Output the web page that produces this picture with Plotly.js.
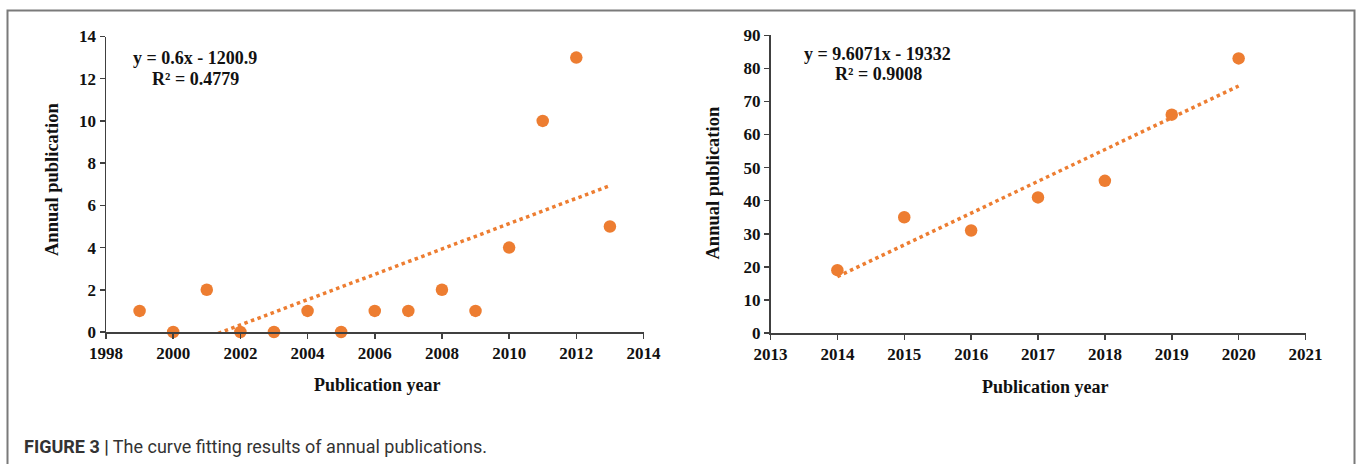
<!DOCTYPE html>
<html>
<head>
<meta charset="utf-8">
<script src="https://cdn.plot.ly/plotly-3.0.1.min.js"></script>
<style>
  html, body { margin: 0; padding: 0; background: #fff; }
  #chart { width: 1358px; height: 464px; }
</style>
</head>
<body>
<div id="chart"></div>
<script>
// ---- Data ----
const yearsA = [1999, 2000, 2001, 2002, 2003, 2004, 2005, 2006, 2007, 2008, 2009, 2010, 2011, 2012, 2013];
const pubsA  = [1, 0, 2, 0, 0, 1, 0, 1, 1, 2, 1, 4, 10, 13, 5];
const yearsB = [2014, 2015, 2016, 2017, 2018, 2019, 2020];
const pubsB  = [19, 35, 31, 41, 46, 66, 83];
const eqA = ["y = 0.6x - 1200.9", "R² = 0.4779"];
const eqB = ["y = 9.6071x - 19332", "R² = 0.9008"];
const xTitle = "Publication year";
const yTitle = "Annual publication";
const caption = ["FIGURE 3 |", "The curve fitting results of annual publications."];

// least-squares linear fit of the data (the trendline)
function linfit(xs, ys) {
  const n = xs.length;
  const mx = xs.reduce((a, b) => a + b, 0) / n;
  const my = ys.reduce((a, b) => a + b, 0) / n;
  let sxy = 0, sxx = 0;
  for (let i = 0; i < n; i++) { sxy += (xs[i] - mx) * (ys[i] - my); sxx += (xs[i] - mx) ** 2; }
  const m = sxy / sxx, b = my - m * mx;
  return [xs[0], xs[n - 1]].map(x => [x, m * x + b]);
}
const fitA = linfit(yearsA, pubsA);
const fitB = linfit(yearsB, pubsB);

const ORANGE = '#ED7D31';
const AXIS = '#404040';
const W = 1358, H = 464;
const px = x => x / W;
const py = y => (H - y) / H;

const tickFont = { family: 'Liberation Serif, Times New Roman, serif', size: 17, color: '#111', weight: 'bold' };
const labFont  = { family: 'Liberation Serif, Times New Roman, serif', size: 18, color: '#111' };
const ylabFont = { family: 'Liberation Serif, Times New Roman, serif', size: 18.5, color: '#111' };
const eqFont   = { family: 'Liberation Serif, Times New Roman, serif', size: 18, color: '#111' };

function axisCommon(extra) {
  return Object.assign({
    showline: true, linecolor: AXIS, linewidth: 1.5,
    ticks: 'outside', ticklen: 5, tickwidth: 1.5, tickcolor: AXIS,
    showgrid: false, zeroline: false, tickfont: tickFont,
    fixedrange: true
  }, extra);
}

const traces = [
  { x: fitA.map(p => p[0]), y: fitA.map(p => p[1]), xaxis: 'x', yaxis: 'y', mode: 'lines',
    line: { color: ORANGE, width: 3.5, dash: '3.5px,3.5px' }, hoverinfo: 'skip' },
  { x: yearsA, y: pubsA, xaxis: 'x', yaxis: 'y', mode: 'markers', cliponaxis: false,
    marker: { color: ORANGE, size: 12.5 } },
  { x: fitB.map(p => p[0]), y: fitB.map(p => p[1]), xaxis: 'x2', yaxis: 'y2', mode: 'lines',
    line: { color: ORANGE, width: 3.5, dash: '3.5px,3.5px' }, hoverinfo: 'skip' },
  { x: yearsB, y: pubsB, xaxis: 'x2', yaxis: 'y2', mode: 'markers', cliponaxis: false,
    marker: { color: ORANGE, size: 12.5 } }
];

function ann(text, x, y, font, extra) {
  return Object.assign({ text: text, x: px(x), y: py(y), xref: 'paper', yref: 'paper',
    showarrow: false, font: font, xanchor: 'center', yanchor: 'middle' }, extra || {});
}

const layout = {
  width: W, height: H, autosize: false,
  margin: { l: 0, r: 0, t: 0, b: 0 },
  paper_bgcolor: '#fff', plot_bgcolor: 'rgba(0,0,0,0)',
  showlegend: false,
  xaxis:  axisCommon({ domain: [px(106), px(643.5)], range: [1998, 2014], dtick: 2, tick0: 1998, anchor: 'y' }),
  yaxis:  axisCommon({ domain: [py(332), py(36.5)], range: [0, 14], dtick: 2, tick0: 0, anchor: 'x' }),
  xaxis2: axisCommon({ domain: [px(770.5), px(1305.5)], range: [2013, 2021], dtick: 1, tick0: 2013, anchor: 'y2' }),
  yaxis2: axisCommon({ domain: [py(333), py(35.3)], range: [0, 90], dtick: 10, tick0: 0, anchor: 'x2' }),
  shapes: [
    { type: 'rect', xref: 'paper', yref: 'paper', x0: px(7.5), x1: px(1354.5), y0: -0.05, y1: py(10.5),
      line: { color: '#7a7a7a', width: 2 }, fillcolor: 'rgba(0,0,0,0)', layer: 'below' }
  ],
  annotations: [
    ann('<b>' + eqA[0] + '</b>', 195, 58, eqFont),
    ann('<b>' + eqA[1] + '</b>', 195.5, 78.5, eqFont),
    ann('<b>' + eqB[0] + '</b>', 877.5, 53.5, eqFont),
    ann('<b>' + eqB[1] + '</b>', 878, 74.5, eqFont),
    ann('<b>' + xTitle + '</b>', 377.5, 385, labFont),
    ann('<b>' + xTitle + '</b>', 1045, 386.5, labFont),
    ann('<b>' + yTitle + '</b>', 52, 180, ylabFont, { textangle: -90 }),
    ann('<b>' + yTitle + '</b>', 712.5, 183, ylabFont, { textangle: -90 }),
    ann('<b>' + caption[0] + '</b> ' + caption[1], 22, 446.5,
      { family: 'Roboto, Liberation Sans, Arial, sans-serif', size: 18, color: '#333' }, { xanchor: 'left' })
  ]
};

Plotly.newPlot('chart', traces, layout, { staticPlot: true, displayModeBar: false });
</script>
</body>
</html>
